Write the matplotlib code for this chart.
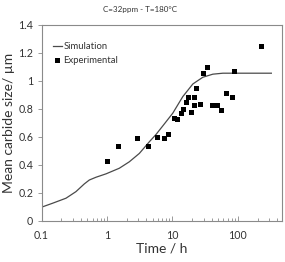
import matplotlib
matplotlib.use('Agg')
import matplotlib.pyplot as plt
from matplotlib.ticker import LogLocator, FixedLocator, NullFormatter

plt.rcParams['font.family'] = ['Lato', 'DejaVu Sans']

# simulation curve (time in h, size in um)
sim_t = [0.1, 0.147, 0.236, 0.335, 0.449, 0.536, 0.68, 0.965, 1.54, 2.19, 3.12, 4.45,
         5.6, 7.5, 10.1, 14.4, 20.5, 29.1, 41.4, 59.0, 100.0, 200.0, 325.0]
sim_d = [0.096, 0.124, 0.16, 0.207, 0.262, 0.29, 0.31, 0.334, 0.374, 0.42, 0.48, 0.564,
         0.615, 0.69, 0.767, 0.886, 0.976, 1.024, 1.046, 1.053, 1.053, 1.053, 1.053]

# experimental points
exp_t = [1.0, 1.45, 2.91, 4.29, 5.9, 7.3, 8.7, 10.4, 11.6, 13.3, 14.4, 16.0, 17.2,
         18.9, 21.0, 21.2, 23.3, 26.2, 29.5, 33.5, 40.5, 47.7, 55.7, 64.9, 82.0, 88.0, 228.0]
exp_d = [0.426, 0.536, 0.59, 0.534, 0.598, 0.59, 0.62, 0.736, 0.726, 0.77, 0.80, 0.85, 0.886,
         0.779, 0.824, 0.88, 0.946, 0.834, 1.053, 1.10, 0.826, 0.826, 0.789, 0.914, 0.886, 1.069, 1.248]

yticks = [0, 0.2, 0.4, 0.6, 0.8, 1.0, 1.2, 1.4]
ylabels = ['0', '0.2', '0.4', '0.6', '0.8', '1', '1.2', '1.4']
xticks = [0.1, 1, 10, 100]
xlabels = ['0.1', '1', '10', '100']

spine = '#8a8a8a'
txt = '#333333'

fig = plt.figure(figsize=(2.85, 2.62), dpi=100)
ax = fig.add_axes([0.146, 0.158, 0.845, 0.748])

ax.plot(sim_t, sim_d, color='#4a4a4a', lw=0.9, label='Simulation')
ax.plot(exp_t, exp_d, 's', color='black', ms=3.6, mec='black', mew=0, label='Experimental')

ax.set_xscale('log')
ax.set_xlim(0.1, 480)
ax.set_ylim(0, 1.4)

ax.xaxis.set_major_locator(FixedLocator(xticks))
ax.set_xticklabels(xlabels)
ax.xaxis.set_minor_locator(LogLocator(base=10, subs=range(2, 10), numticks=20))
ax.xaxis.set_minor_formatter(NullFormatter())
ax.set_yticks(yticks)
ax.set_yticklabels(ylabels)

ax.tick_params(axis='x', which='major', direction='in', length=3.5, width=0.6,
               color=spine, labelsize=7.7, pad=7, labelcolor=txt)
ax.tick_params(axis='x', which='minor', direction='in', length=2.5, width=0.6, color=spine)
ax.tick_params(axis='y', which='major', direction='out', length=3, width=0.6,
               color=spine, labelsize=7.7, pad=3, labelcolor=txt)

for s in ax.spines.values():
    s.set_color(spine)
    s.set_linewidth(0.8)

ax.set_xlabel('Time / h', fontsize=10, color=txt, labelpad=1)
ax.set_ylabel('Mean carbide size/ µm', fontsize=10, color=txt, labelpad=2)
fig.text(0.49, 0.965, 'C=32ppm - T=180°C', ha='center', va='center', fontsize=5.8, color=txt)

ax.legend(loc='upper left', bbox_to_anchor=(0.03, 0.93), frameon=False, fontsize=6.8,
          handlelength=1.0, handletextpad=0.15, labelspacing=0.5, borderaxespad=0,
          labelcolor=txt)

fig.savefig('out.png', dpi=100)
